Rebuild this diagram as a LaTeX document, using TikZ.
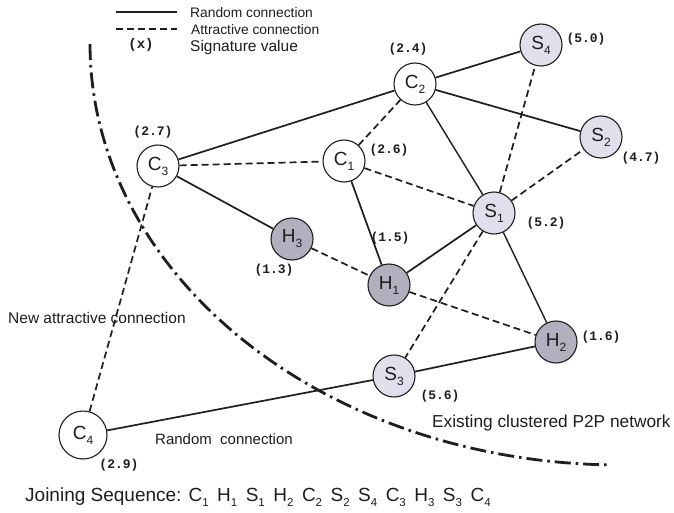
\documentclass[tikz,border=0pt]{standalone}
\usepackage{fontspec}
\setmainfont{Liberation Sans}
\newfontfamily\sigfont{Liberation Mono}
\newcommand{\nsub}[1]{\raisebox{-0.5ex}{\fontsize{12}{12}\selectfont #1}}
\newcommand{\qsub}[1]{\raisebox{-0.45ex}{\fontsize{11.5}{11.5}\selectfont #1}\hspace{8.5pt}}
\definecolor{snode}{HTML}{E0E0EC}
\definecolor{hnode}{HTML}{B0B0BE}
\definecolor{ink}{HTML}{1E1E1E}
\tikzset{
  peer/.style={circle, draw=ink, line width=1.1pt, minimum size=42pt, inner sep=0pt,
    font=\fontsize{19}{19}\selectfont, text=ink},
  cnode/.style={peer, fill=white},
  sn/.style={peer, fill=snode},
  hn/.style={peer, fill=hnode},
  randlink/.style={draw=ink, line width=1.7pt},
  attrlink/.style={draw=ink, line width=1.7pt, dash pattern=on 7pt off 4pt},
  sig/.style={font=\sigfont\bfseries\fontsize{13}{13}\selectfont, inner sep=0pt, text=ink},
  txt/.style={inner sep=0pt, text=ink},
  boundary/.style={draw=ink, line width=2.8pt, dash pattern=on 16pt off 5pt on 2.5pt off 5pt}
}
\begin{document}
\begin{tikzpicture}[x=1pt, y=-1pt]
\useasboundingbox[fill=white] (0,0) rectangle (674,513);

% legend
\coordinate (l1a) at (116,12); \coordinate (l1b) at (177,12);
\coordinate (l2a) at (116,29); \coordinate (l2b) at (177,29);
\draw[randlink] (l1a) -- (l1b);
\draw[attrlink] (l2a) -- (l2b);
\node[txt, anchor=west, font=\fontsize{13.8}{14}\selectfont] (lg1) at (190,13) {Random connection};
\node[txt, anchor=west, font=\fontsize{13.8}{14}\selectfont] (lg2) at (191,30) {Attractive connection};
\node[sig, font=\sigfont\bfseries\fontsize{14}{14}\selectfont] (lgx) at (141,45) {(x)};
\node[txt, anchor=west, font=\fontsize{15.5}{15.5}\selectfont] (lg3) at (190,47) {Signature value};

% boundary of the existing cluster
\draw[boundary] plot[domain=180:269, samples=80, smooth] ({620+530*cos(\x)}, {44-421*sin(\x)});

% peers
\node[cnode] (C1) at (344,161) {C\nsub{1}};
\node[cnode] (C2) at (415,84) {C\nsub{2}};
\node[cnode] (C3) at (158,166) {C\nsub{3}};
\node[cnode, minimum size=48pt] (C4) at (83,435) {C\nsub{4}};
\node[sn] (S1) at (494,213) {S\nsub{1}};
\node[sn] (S2) at (601,137) {S\nsub{2}};
\node[sn] (S3) at (394,376) {S\nsub{3}};
\node[sn] (S4) at (541,45) {S\nsub{4}};
\node[hn] (H1) at (389,285) {H\nsub{1}};
\node[hn] (H2) at (556,342) {H\nsub{2}};
\node[hn] (H3) at (292,239) {H\nsub{3}};

% random connections
\draw[randlink] (C3) -- (C2);
\draw[randlink] (C2) -- (S4);
\draw[randlink] (C2) -- (S2);
\draw[randlink, line width=1.4pt] (C2) -- (S1);
\draw[randlink] (C3) -- (H3);
\draw[randlink] (C1) -- (H1);
\draw[randlink] (H1) -- (S1);
\draw[randlink, line width=1.4pt] (S1) -- (H2);
\draw[randlink] (S3) -- (H2);
\draw[randlink] (C4) -- (S3);

% attractive connections
\draw[attrlink] (C3) -- (C1);
\draw[attrlink] (C1) -- (C2);
\draw[attrlink] (C1) -- (S1);
\draw[attrlink] (S1) -- (S4);
\draw[attrlink] (S1) -- (S2);
\draw[attrlink] (S1) -- (S3);
\draw[attrlink] (H3) -- (H1);
\draw[attrlink] (H1) -- (H2);
\draw[attrlink] (C4) -- (C3);

% signature values
\node[sig] (v2) at (408,49) {(2.4)};
\node[sig] (v5) at (586,39) {(5.0)};
\node[sig] (v1) at (389,150) {(2.6)};
\node[sig] (v7) at (641,158) {(4.7)};
\node[sig] (v52) at (546,223) {(5.2)};
\node[sig] (v15) at (390,238) {(1.5)};
\node[sig] (v27) at (153,132) {(2.7)};
\node[sig] (v13) at (274,270) {(1.3)};
\node[sig] (v16) at (601,337) {(1.6)};
\node[sig] (v56) at (440,396) {(5.6)};
\node[sig] (v29) at (119,465) {(2.9)};

% captions
\node[txt, anchor=west, font=\fontsize{15.5}{15.5}\selectfont] (newc) at (8,318) {New attractive connection};
\node[txt, font=\fontsize{15}{15}\selectfont] (randc) at (224,439) {Random\ \ connection};
\node[txt, anchor=west, font=\fontsize{17.3}{17.3}\selectfont] (exist) at (432,423) {Existing clustered P2P network};
\node[txt, anchor=west, font=\fontsize{19}{19}\selectfont] (join) at (25,497)
  {Joining Sequence: C\qsub{1}H\qsub{1}S\qsub{1}H\qsub{2}C\qsub{2}S\qsub{2}S\qsub{4}C\qsub{3}H\qsub{3}S\qsub{3}C\raisebox{-0.45ex}{\fontsize{11.5}{11.5}\selectfont 4}};
\end{tikzpicture}
\end{document}
